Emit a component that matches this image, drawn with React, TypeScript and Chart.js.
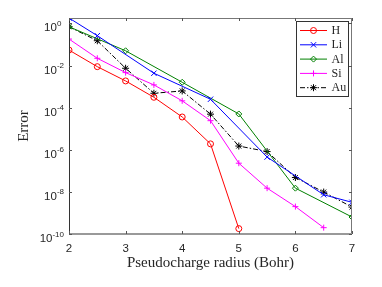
import React, { useEffect, useRef } from 'react';
import { Chart, registerables } from 'chart.js';
Chart.register(...registerables);

const hX = [2, 2.5, 3, 3.5, 4, 4.5, 5];
const hErr = [0.054, 8.8e-3, 1.85e-3, 3.1e-4, 3.6e-5, 1.9e-6, 1.8e-10];
const liX = [2, 2.5, 3.5, 4.5, 5.5, 6.5, 7];
const liErr = [1.8, 0.26, 4.3e-3, 2.5e-4, 4.5e-7, 7.3e-9, 3.2e-9];
const alX = [2, 3, 4, 5, 6, 7];
const alErr = [0.69, 0.05, 1.6e-3, 5e-5, 1.5e-8, 6.4e-10];
const siX = [2, 2.5, 3, 3.5, 4, 4.5, 5, 5.5, 6, 6.5];
const siErr = [0.18, 0.022, 4.6e-3, 1.2e-3, 2.1e-4, 2.4e-5, 2.3e-7, 1.5e-8, 2.0e-9, 2.0e-10];
const auX = [2, 2.5, 3, 3.5, 4, 4.5, 5, 5.5, 6, 6.5, 7];
const auErr = [0.69, 0.15, 7.4e-3, 4.8e-4, 6.2e-4, 4.9e-5, 1.5e-6, 8.2e-7, 4.8e-8, 9.8e-9, 1.9e-9];

const seriesNames = ['H', 'Li', 'Al', 'Si', 'Au'];
const seriesColors = ['#ff0000', '#0000ff', '#008000', '#ff00ff', '#000000'];
const seriesMarkers = ['circle', 'crossRot', 'rectRot', 'cross', 'star'];
const xTicks = [2, 3, 4, 5, 6, 7];
const yTickExps = [0, -2, -4, -6, -8, -10];
const xTitle = 'Pseudocharge radius (Bohr)';
const yTitle = 'Error';

const TEXT = '#262626';

function pts(xs: number[], ys: number[]) {
  return xs.map((x, i) => ({ x, y: ys[i] }));
}

function drawMarker(ctx: CanvasRenderingContext2D, kind: string, x: number, y: number, r: number) {
  ctx.beginPath();
  if (kind === 'circle') {
    ctx.arc(x, y, r, 0, Math.PI * 2);
  } else if (kind === 'crossRot') {
    const d = r * Math.SQRT1_2;
    ctx.moveTo(x - d, y - d); ctx.lineTo(x + d, y + d);
    ctx.moveTo(x - d, y + d); ctx.lineTo(x + d, y - d);
  } else if (kind === 'rectRot') {
    ctx.moveTo(x, y - r); ctx.lineTo(x + r, y); ctx.lineTo(x, y + r); ctx.lineTo(x - r, y); ctx.closePath();
  } else if (kind === 'cross') {
    ctx.moveTo(x - r, y); ctx.lineTo(x + r, y);
    ctx.moveTo(x, y - r); ctx.lineTo(x, y + r);
  } else if (kind === 'star') {
    const d = r * Math.SQRT1_2;
    ctx.moveTo(x - r, y); ctx.lineTo(x + r, y);
    ctx.moveTo(x, y - r); ctx.lineTo(x, y + r);
    ctx.moveTo(x - d, y - d); ctx.lineTo(x + d, y + d);
    ctx.moveTo(x - d, y + d); ctx.lineTo(x + d, y - d);
  }
  ctx.stroke();
}

const decorPlugin = {
  id: 'decor',
  afterDatasetsDraw(chart: any) {
    const ctx: CanvasRenderingContext2D = chart.ctx;
    const { left, right, top, bottom } = chart.chartArea;
    const xs = chart.scales.x;
    const ys = chart.scales.y;
    ctx.save();
    // frame
    ctx.lineWidth = 1;
    ctx.strokeStyle = '#777777';
    ctx.beginPath();
    ctx.moveTo(left, top + 0.5); ctx.lineTo(right, top + 0.5);
    ctx.moveTo(right - 0.5, top); ctx.lineTo(right - 0.5, bottom);
    ctx.stroke();
    ctx.strokeStyle = '#333333';
    ctx.beginPath();
    ctx.moveTo(left + 0.5, top); ctx.lineTo(left + 0.5, bottom);
    ctx.stroke();
    ctx.strokeStyle = '#999999';
    ctx.lineWidth = 2;
    ctx.beginPath();
    ctx.moveTo(left, bottom); ctx.lineTo(right, bottom);
    ctx.stroke();
    // ticks
    ctx.lineWidth = 1;
    ctx.strokeStyle = '#555555';
    ctx.beginPath();
    xTicks.forEach((t) => {
      const px = Math.round(xs.getPixelForValue(t)) + 0.5;
      ctx.moveTo(px, bottom); ctx.lineTo(px, bottom - 3);
      ctx.moveTo(px, top); ctx.lineTo(px, top + 3);
    });
    yTickExps.forEach((e) => {
      const py = Math.round(ys.getPixelForValue(Math.pow(10, e))) + 0.5;
      ctx.moveTo(left, py); ctx.lineTo(left + 3, py);
      ctx.moveTo(right, py); ctx.lineTo(right - 3, py);
    });
    ctx.stroke();
    // x tick labels
    ctx.fillStyle = TEXT;
    ctx.font = '11.5px "Liberation Sans", Arial, sans-serif';
    ctx.textAlign = 'center';
    ctx.textBaseline = 'alphabetic';
    xTicks.forEach((t) => {
      ctx.fillText(String(t), xs.getPixelForValue(t), bottom + 17.5);
    });
    // y tick labels
    const labelRight = left - 5;
    ctx.font = '8px "Liberation Sans", Arial, sans-serif';
    const minExpW = ctx.measureText('-0').width;
    yTickExps.forEach((e) => {
      const py = ys.getPixelForValue(Math.pow(10, e));
      ctx.font = '8px "Liberation Sans", Arial, sans-serif';
      const expStr = e === 0 ? '0' : '-' + String(-e);
      const ew = Math.max(ctx.measureText(expStr).width, minExpW);
      const baseEnd = labelRight - ew;
      ctx.textAlign = 'left';
      ctx.fillText(expStr, baseEnd, py + 2.5);
      ctx.font = '11.5px "Liberation Sans", Arial, sans-serif';
      ctx.textAlign = 'right';
      ctx.fillText('10', baseEnd, py + 8);
    });
    // axis titles
    ctx.font = '15px "Liberation Serif", "Times New Roman", serif';
    ctx.textAlign = 'center';
    ctx.fillText(xTitle, (left + right) / 2, bottom + 33);
    ctx.save();
    ctx.translate(27.5, (top + bottom) / 2);
    ctx.rotate(-Math.PI / 2);
    ctx.fillText(yTitle, 0, 0);
    ctx.restore();
    // legend
    const lx0 = 296, ly0 = 21, lw = 52, lh = 75;
    ctx.fillStyle = '#ffffff';
    ctx.fillRect(lx0, ly0, lw, lh);
    ctx.strokeStyle = '#333333';
    ctx.lineWidth = 1;
    ctx.strokeRect(lx0 + 0.5, ly0 + 0.5, lw, lh);
    chart.data.datasets.forEach((ds: any, i: number) => {
      const ry = ly0 + 9.5 + i * 14.3;
      ctx.strokeStyle = ds.borderColor;
      ctx.lineWidth = 1;
      ctx.setLineDash(ds.borderDash || []);
      ctx.beginPath();
      ctx.moveTo(lx0 + 4, ry); ctx.lineTo(lx0 + 31, ry);
      ctx.stroke();
      ctx.setLineDash([]);
      drawMarker(ctx, ds.pointStyle, lx0 + 17.5, ry, ds.pointRadius);
      ctx.fillStyle = TEXT;
      ctx.font = '12px "Liberation Serif", "Times New Roman", serif';
      ctx.textAlign = 'left';
      ctx.textBaseline = 'middle';
      ctx.fillText(ds.label, lx0 + 35.5, ry + 0.5);
    });
    ctx.restore();
  },
};

export default function App() {
  const ref = useRef<HTMLCanvasElement | null>(null);
  useEffect(() => {
    if (!ref.current) return;
    const xsAll = [hX, liX, alX, siX, auX];
    const ysAll = [hErr, liErr, alErr, siErr, auErr];
    const radii = [3, 3.8, 3, 3, 3.5];
    const chart = new Chart(ref.current, {
      type: 'line',
      data: {
        datasets: seriesNames.map((name, i) => ({
          label: name,
          data: pts(xsAll[i], ysAll[i]),
          borderColor: seriesColors[i],
          backgroundColor: 'rgba(0,0,0,0)',
          borderWidth: 1,
          borderDash: i === 4 ? [5, 2, 1.5, 2] : [],
          pointStyle: seriesMarkers[i],
          pointRadius: radii[i],
          pointBorderWidth: 1,
          pointBorderColor: seriesColors[i],
          pointBackgroundColor: 'rgba(0,0,0,0)',
          tension: 0,
          fill: false,
        })),
      },
      options: {
        animation: false,
        responsive: false,
        maintainAspectRatio: false,
        events: [],
        layout: { padding: { left: 69, right: 30, top: 18, bottom: 53 } },
        scales: {
          x: { type: 'linear', min: 2, max: 7, display: false },
          y: { type: 'logarithmic', min: 1e-10, max: 1.8, display: false },
        },
        plugins: { legend: { display: false }, tooltip: { enabled: false }, title: { display: false } },
      } as any,
      plugins: [decorPlugin],
    });
    return () => chart.destroy();
  }, []);
  return (
    <div style={{ position: 'absolute', left: 0, top: 0, width: 382, height: 287, background: '#fff' }}>
      <canvas ref={ref} width={382} height={287} style={{ width: 382, height: 287, display: 'block' }} />
    </div>
  );
}
